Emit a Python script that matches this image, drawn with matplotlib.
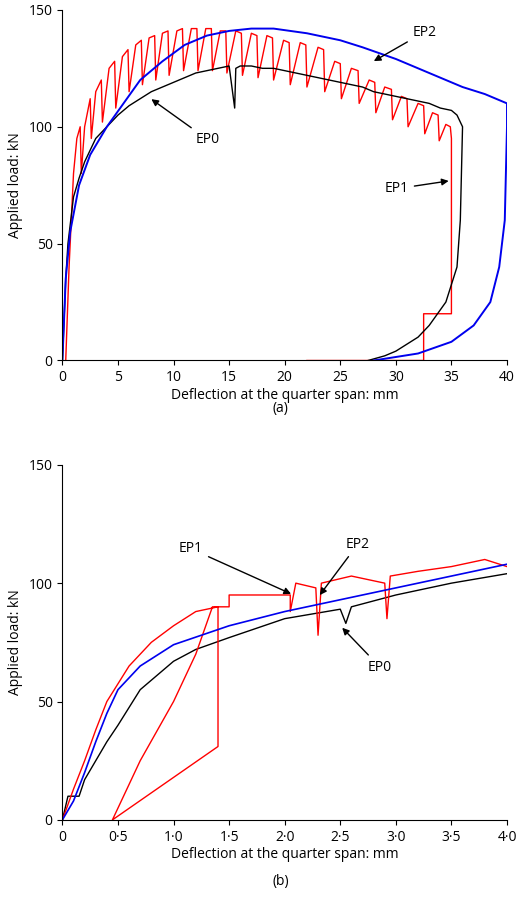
import matplotlib
matplotlib.use("Agg")
import matplotlib.pyplot as plt

plt.rcParams['font.family'] = ['Open Sans', 'DejaVu Sans']
plt.rcParams['font.size'] = 10

# ---- (a) ----
a_ep2_x = [0, 0.3, 0.7, 1.5, 2.5, 4, 5.5, 7, 9, 11, 13, 15, 17, 19, 22, 25, 27, 30, 32, 34, 36, 38, 40,
           40, 39.8, 39.3, 38.5, 37, 35, 32, 28]
a_ep2_y = [0, 35, 55, 75, 88, 100, 110, 120, 128, 135, 139, 141, 142, 142, 140, 137, 134, 129, 125, 121, 117, 114, 110,
           100, 60, 40, 25, 15, 8, 3, 0]
a_ep0_x = [0, 0.3, 0.5, 1, 1.5, 2, 3, 4, 5, 6, 7, 8, 9, 10, 11, 12, 13, 14, 15, 15.5, 15.6, 16, 17, 18, 19, 20, 21,
           22, 23, 24, 25, 26, 27, 28, 29, 30, 31, 32, 33, 34, 35, 35.5, 36, 35.8, 35.5, 34.5, 33, 32, 30, 29, 27.5]
a_ep0_y = [0, 35, 50, 70, 78, 85, 95, 100, 105, 109, 112, 115, 117, 119, 121, 123, 124, 125, 126, 108, 125, 126, 126, 125, 125, 124, 123,
           122, 121, 120, 119, 118, 117, 115, 114, 113, 112, 111, 110, 108, 107, 105, 100, 60, 40, 25, 15, 10, 4, 2, 0]
a_ep1_x = [0.3, 0.6, 1.0, 1.3, 1.6, 1.7, 2.0, 2.5, 2.6, 3.0, 3.5, 3.6, 4.2, 4.7, 4.8, 5.4, 5.9, 6.0, 6.6, 7.1, 7.2, 7.8, 8.3, 8.4,
           9.0, 9.5, 9.6, 10.3, 10.8, 10.9, 11.6, 12.1, 12.2, 12.9, 13.4, 13.5, 14.2, 14.7, 14.8, 15.6, 16.1, 16.2, 17.0, 17.5, 17.6,
           18.4, 18.9, 19.0, 19.9, 20.4, 20.5, 21.4, 21.9, 22.0, 23.0, 23.5, 23.6, 24.5, 25.0, 25.1, 26.0, 26.6, 26.7, 27.6, 28.1, 28.2,
           29.0, 29.6, 29.7, 30.5, 31.0, 31.1, 32.0, 32.5, 32.6, 33.3, 33.8, 33.9, 34.5, 34.9, 35.0, 35.0, 32.5, 32.5, 22]
a_ep1_y = [0, 40, 80, 95, 100, 80, 100, 112, 95, 115, 120, 102, 125, 128, 108, 130, 133, 115, 135, 137, 118, 138, 139, 120,
           140, 141, 122, 141, 142, 124, 142, 142, 124, 142, 142, 124, 141, 141, 123, 141, 140, 122, 140, 139, 121,
           139, 138, 120, 137, 136, 118, 136, 135, 117, 134, 133, 115, 128, 127, 112, 125, 124, 110, 120, 119, 106,
           117, 116, 103, 113, 112, 100, 110, 109, 97, 106, 105, 94, 101, 100, 95, 20, 20, 0, 0]

# ---- (b) ----
b_ep2_x = [0, 0.1, 0.2, 0.3, 0.4, 0.5, 0.7, 1.0, 1.5, 2.0, 2.5, 3.0, 3.5, 4.0]
b_ep2_y = [0, 8, 20, 33, 45, 55, 65, 74, 82, 88, 93, 98, 103, 108]
b_ep0_x = [0, 0.05, 0.15, 0.2, 0.3, 0.4, 0.5, 0.7, 1.0, 1.2, 1.5, 2.0, 2.5, 2.55, 2.6, 3.0, 3.5, 4.0]
b_ep0_y = [0, 10, 10, 17, 25, 33, 40, 55, 67, 72, 77, 85, 89, 83, 90, 95, 100, 104]
b_ep1_x = [0, 0.1, 0.2, 0.3, 0.4, 0.6, 0.8, 1.0, 1.2, 1.4, 1.4, 0.45, 0.5, 0.7, 1.0, 1.2, 1.35, 1.5, 1.5, 2.05, 2.05,
           2.1, 2.28, 2.3, 2.33, 2.6, 2.9, 2.92, 2.95, 3.2, 3.5, 3.8, 4.0]
b_ep1_y = [0, 13, 25, 38, 50, 65, 75, 82, 88, 90, 31, 0, 5, 25, 50, 70, 90, 90, 95, 95, 88,
           100, 98, 78, 100, 103, 100, 85, 103, 105, 107, 110, 107]

fig = plt.figure(figsize=(5.2, 8.99), dpi=100)
ax1 = fig.add_axes([0.12, 0.599, 0.855, 0.39])
ax2 = fig.add_axes([0.12, 0.088, 0.855, 0.395])

ax1.plot(a_ep1_x, a_ep1_y, color='#ff0000', lw=1)
ax1.plot(a_ep0_x, a_ep0_y, color='black', lw=1)
ax1.plot(a_ep2_x, a_ep2_y, color='#0000ee', lw=1.4)
ax1.set_xlim(0, 40); ax1.set_ylim(0, 150)
ax1.set_xticks(range(0, 41, 5)); ax1.set_yticks([0, 50, 100, 150])
ax1.set_xlabel('Deflection at the quarter span: mm', labelpad=2)
ax1.set_ylabel('Applied load: kN')
ap = dict(arrowstyle='-|>', color='black', lw=1)
ax1.annotate('EP2', xy=(27.8, 127.5), xytext=(31.5, 139), arrowprops=ap)
ax1.annotate('EP0', xy=(7.8, 112.5), xytext=(12, 93), arrowprops=ap)
ax1.annotate('EP1', xy=(35, 77), xytext=(29, 72), arrowprops=ap)
fig.text(0.54, 0.542, '(a)', ha='center')

ax2.plot(b_ep0_x, b_ep0_y, color='black', lw=1)
ax2.plot(b_ep1_x, b_ep1_y, color='#ff0000', lw=1)
ax2.plot(b_ep2_x, b_ep2_y, color='#0000ee', lw=1.2)
ax2.set_xlim(0, 4); ax2.set_ylim(0, 150)
ax2.set_xticks([0, 0.5, 1, 1.5, 2, 2.5, 3, 3.5, 4])
ax2.set_xticklabels(['0', '0·5', '1·0', '1·5', '2·0', '2·5', '3·0', '3·5', '4·0'])
ax2.set_yticks([0, 50, 100, 150])
ax2.set_xlabel('Deflection at the quarter span: mm', labelpad=2)
ax2.set_ylabel('Applied load: kN')
ax2.annotate('EP1', xy=(2.08, 95), xytext=(1.05, 113), arrowprops=ap)
ax2.annotate('EP2', xy=(2.3, 94), xytext=(2.55, 115), arrowprops=ap)
ax2.annotate('EP0', xy=(2.5, 82), xytext=(2.75, 63), arrowprops=ap)
fig.text(0.54, 0.016, '(b)', ha='center')

for ax in (ax1, ax2):
    for s in ('top', 'right'):
        ax.spines[s].set_visible(False)

fig.savefig('out.png', dpi=100)
